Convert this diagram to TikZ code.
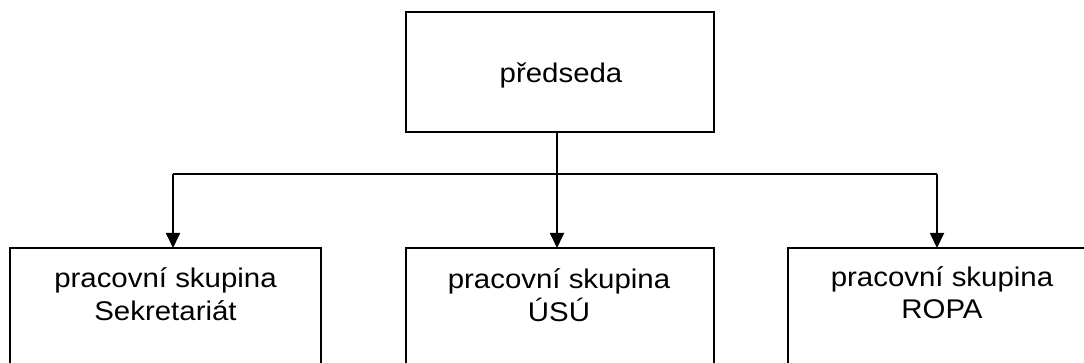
\documentclass[tikz,border=0pt]{standalone}
\usepackage{fontspec}
\newfontfamily\lbbot{Liberation Sans}[FakeStretch=1.09]
\usetikzlibrary{arrows.meta}
\tikzset{
  box/.style={draw=black, line width=1.8pt, fill=none, inner sep=0pt, minimum height=160pt},
  lbl/.style={font=\lbbot\fontsize{27}{32}\selectfont, inner sep=0pt, anchor=base, text=black},
  conn/.style={line width=1.8pt},
  arr/.style={conn, -{Triangle[width=14pt,length=15pt]}, shorten >=-0.9pt}
}
\begin{document}
\begin{tikzpicture}[x=1pt,y=-1pt]
\useasboundingbox (0,0) rectangle (1084,363);
\clip (0,0) rectangle (1084,363);
\fill[white] (0,0) rectangle (1084,363);
% boxes
\node[box, minimum width=308pt, minimum height=120pt] (top) at (560,72) {};
\node[box, minimum width=311pt] (sek) at (165.5,328) {};
\node[box, minimum width=308pt] (usu) at (560,328) {};
\node[box, minimum width=308pt] (ropa) at (942,328) {};
% labels
\node[lbl] (tl) at (561,83) {předseda};
\node[lbl] (s1) at (165.5,287.5) {pracovní skupina};
\node[lbl] (s2) at (165.5,320) {Sekretariát};
\node[lbl] (u1) at (559,289) {pracovní skupina};
\node[lbl] (u2) at (559,321) {ÚSÚ};
\node[lbl] (r1) at (942,287) {pracovní skupina};
\node[lbl] (r2) at (942,319) {ROPA};
% connectors
\coordinate (j) at (557,174);
\coordinate (cl) at (173,174);
\coordinate (cr) at (937,174);
\draw[conn] (top.south -| j) -- (j);
\draw[conn] (cl) -- (cr);
\draw[arr] (cl) -- (cl |- sek.north);
\draw[arr] (j) -- (j |- usu.north);
\draw[arr] (cr) -- (cr |- ropa.north);
\end{tikzpicture}
\end{document}
